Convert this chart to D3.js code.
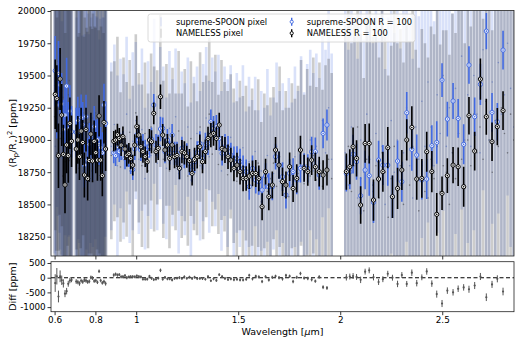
<!DOCTYPE html>
<html lang="en">
<head>
<meta charset="UTF-8">
<title>Transmission spectrum: supreme-SPOON vs NAMELESS</title>
<style>
  body { margin: 0; background: #fff; }
  svg { font-family: "DejaVu Sans", sans-serif; }
  .axis text { fill: #000; }
  .axis line { stroke: #000; stroke-width: 0.8; }
  .frame { fill: none; stroke: #222; stroke-width: 0.8; }
</style>
</head>
<body>
<svg width="520" height="341"></svg>
<script src="https://d3js.org/d3.v7.min.js"></script>
<script>
// ---- pixel level spectra (order 2 below 0.86 um, order 1 above) ----
const pixWave = [
  0.600, 0.604, 0.608, 0.612, 0.616, 0.620, 0.624, 0.628, 0.632, 0.636, 0.640, 0.644, 0.648, 0.652, 0.656, 0.660, 0.664, 0.668, 0.672, 0.676, 0.680, 0.685,
  0.704, 0.708, 0.712, 0.716, 0.720, 0.724, 0.728, 0.732, 0.736, 0.740, 0.744, 0.748, 0.752, 0.756, 0.760, 0.764, 0.768, 0.772, 0.776, 0.780,
  0.784, 0.788, 0.792, 0.796, 0.800, 0.804, 0.808, 0.812, 0.816, 0.820, 0.824, 0.828, 0.832, 0.836, 0.840, 0.844, 0.848, 0.852,
  0.878, 0.893, 0.908, 0.923, 0.938, 0.953, 0.968, 0.983, 0.998, 1.013, 1.028, 1.043, 1.058, 1.073, 1.088, 1.103, 1.118, 1.133, 1.148, 1.163,
  1.178, 1.193, 1.208, 1.223, 1.238, 1.253, 1.268, 1.283, 1.298, 1.313, 1.328, 1.343, 1.358, 1.373, 1.388, 1.403, 1.418, 1.433, 1.448, 1.463,
  1.478, 1.493, 1.508, 1.523, 1.538, 1.553, 1.568, 1.583, 1.598, 1.613, 1.628, 1.643, 1.658, 1.673, 1.688, 1.703, 1.718, 1.733, 1.748, 1.763,
  1.778, 1.793, 1.808, 1.823, 1.838, 1.853, 1.868, 1.883, 1.898, 1.913, 1.928, 1.943, 1.958,
  2.025, 2.040, 2.055, 2.070, 2.085, 2.100, 2.115, 2.130, 2.145, 2.160, 2.175, 2.190, 2.205, 2.220, 2.235, 2.250, 2.265, 2.280, 2.295, 2.310,
  2.325, 2.340, 2.355, 2.370, 2.385, 2.400, 2.415, 2.430, 2.445, 2.460, 2.475, 2.490, 2.505, 2.520, 2.535, 2.550, 2.565, 2.580, 2.595, 2.610,
  2.625, 2.640, 2.655, 2.670, 2.685, 2.700, 2.715, 2.730, 2.745, 2.760, 2.775, 2.790, 2.805, 2.820, 2.835, 2.850
];
const pixSpoon = [
  19420, 18950, 19150, 19530, 19610, 19080, 19280, 19400, 19050, 18870, 19330, 19150, 18890, 19260, 19240, 18980, 19120, 19350, 19460, 19010, 18980, 19200,
  19100, 18950, 18870, 19180, 19250, 18900, 19010, 19130, 18760, 19050, 19180, 18820, 18930, 19200, 19070, 18880, 18820, 19100, 19150, 18900,
  18990, 19170, 18880, 19020, 19210, 18860, 18950, 19120, 19060, 18830, 18840, 19090, 19130, 18900, 18970, 19160, 19250, 19080,
  18950, 19120, 18800, 19050, 18870, 19200, 18760, 18990, 19150, 18850, 19080, 18700, 19010, 18880, 19300, 18820, 19130, 18960, 18780, 19090,
  18900, 19180, 18740, 18970, 18850, 19100, 18690, 18920, 19050, 18800, 18980, 19170, 18870, 19080, 18930, 19120, 18760, 18990, 18820, 19020,
  18690, 18900, 18750, 18940, 18620, 18830, 18700, 18910, 18580, 18760, 18650, 18880, 18560, 18740, 18950, 18680, 18820, 18590, 18790, 18650,
  18870, 18700, 18930, 18680, 18850, 19000, 18760, 18950, 18700, 19150, 18900, 19250, 18850,
  18900, 18650, 19100, 18800, 18550, 19000, 18750, 19200, 18850, 18600, 19050, 18700, 18950, 18500, 18850, 19150, 18750, 19000, 18650, 18900,
  19250, 18800, 18550, 19100, 18850, 19300, 18950, 19450, 19100, 18800, 19350, 19050, 19500, 18950, 19250, 18900, 19400, 19150, 19650, 19000,
  19350, 18950, 19500, 19200, 18900, 19700, 19300, 19000, 19450, 19150, 19600, 19200, 19350, 19750, 19400, 19100
];
const pixNameless = [
  19180, 19450, 19390, 18900, 18860, 19240, 19420, 19010, 19260, 19380, 18720, 18990, 19010, 18830, 18950, 19160, 19230, 18900, 18840, 19100, 19090, 18910,
  18920, 19150, 19110, 18850, 18780, 19060, 19160, 18870, 18990, 19210, 18700, 18950, 19040, 18820, 18860, 19130, 19120, 18880, 18930, 19170,
  18760, 18980, 19080, 18830, 18890, 19100, 19150, 18850, 18800, 19070, 19020, 18880, 18910, 19140, 18850, 18990, 19070, 18960,
  18880, 18990, 19100, 18790, 19000, 18850, 19060, 18730, 19210, 18940, 18800, 19050, 18760, 19100, 18930, 19020, 19380, 18850, 19040, 18760,
  18990, 18830, 19070, 18800, 18960, 18720, 19010, 18870, 18780, 19100, 18840, 18950, 19200, 18890, 19060, 18810, 19000, 18870, 18730, 18950,
  18800, 18680, 18880, 18700, 18820, 18600, 18790, 18650, 18820, 18520, 18760, 18600, 18700, 18820, 18640, 18870, 18610, 18720, 18560, 18800,
  18620, 18740, 18900, 18660, 18810, 18720, 18880, 18690, 18820, 18640, 18780, 18850, 18700,
  18750, 18950, 18600, 18900, 19100, 18700, 18450, 18850, 19000, 18650, 18800, 18550, 18900, 18750, 18400, 18700, 18950, 18600, 18800, 18500,
  18850, 18650, 18950, 18700, 18450, 18800, 18600, 18550, 18850, 18700, 18950, 18600, 18800, 18750, 18500, 18900, 18700, 19050, 18850, 18650,
  19000, 18800, 19200, 18900, 19100, 18850, 19300, 19000, 18750, 19150, 18950, 19250, 19050, 18900, 19200, 19000
];
const pixErr = [
  1300, 1150, 1250, 1050, 1200, 1100, 1000, 1250, 1150, 1050, 1300, 1100, 1200, 1000, 1150, 1250, 1050, 1100, 1200, 1000, 1150, 1100,
  1100, 1000, 1150, 950, 1050, 1100, 1000, 1150, 1050, 950, 1100, 1000, 1150, 1050, 980, 1100, 1000, 1150, 950, 1050,
  1100, 1000, 1150, 1050, 980, 1100, 1000, 1150, 1050, 950, 1100, 1000, 1150, 1050, 980, 1100, 1000, 1050,
  650, 620, 700, 580, 640, 600, 560, 690, 610, 580, 630, 550, 600, 570, 640, 520, 590, 610, 550, 600,
  570, 530, 620, 560, 590, 540, 600, 570, 520, 580, 610, 550, 590, 560, 600, 540, 620, 580, 650, 560,
  600, 620, 580, 640, 600, 660, 610, 580, 650, 620, 600, 670, 630, 590, 650, 700, 620, 660, 690, 640,
  700, 680, 720, 690, 740, 700, 760, 720, 780, 750, 800, 780, 820,
  1100, 1050, 1150, 1000, 1080, 1120, 1030, 1100, 1060, 1150, 1000, 1090, 1120, 1050, 1100, 1030, 1080, 1150, 1060, 1100,
  1040, 1120, 1080, 1000, 1110, 1060, 1150, 1090, 1030, 1120, 1070, 1140, 1050, 1100, 1160, 1080, 1130, 1060, 1190, 1100,
  1150, 1080, 1200, 1130, 1170, 1090, 1220, 1150, 1100, 1240, 1170, 1200, 1260, 1180, 1230, 1300
];

// ---- binned spectra, R = 100 ----
const binWave = [
  0.603, 0.611, 0.619, 0.627, 0.635, 0.643, 0.651, 0.659, 0.667, 0.675, 0.683,
  0.706, 0.714, 0.722, 0.730, 0.738, 0.746, 0.754, 0.762, 0.770, 0.778, 0.786, 0.794, 0.802, 0.810, 0.818, 0.826, 0.834, 0.842, 0.850,
  0.890, 0.899, 0.908, 0.917, 0.926, 0.935, 0.945, 0.954, 0.964, 0.973, 0.983, 0.993, 1.003, 1.013, 1.023, 1.033, 1.044, 1.054, 1.065, 1.075,
  1.086, 1.097, 1.108, 1.119, 1.130, 1.141, 1.153, 1.164, 1.176, 1.188, 1.200, 1.212, 1.224, 1.236, 1.248, 1.261, 1.274, 1.286, 1.299, 1.312,
  1.325, 1.339, 1.352, 1.366, 1.379, 1.393, 1.407, 1.421, 1.435, 1.450, 1.464, 1.479, 1.494, 1.509, 1.524, 1.539, 1.554, 1.570, 1.586, 1.601,
  1.617, 1.634, 1.650, 1.667, 1.683, 1.700, 1.717, 1.734, 1.752, 1.769, 1.787, 1.805, 1.823, 1.841, 1.860, 1.878, 1.897, 1.916, 1.935,
  2.030, 2.047, 2.063, 2.080, 2.100, 2.122, 2.142, 2.163, 2.188, 2.209, 2.233, 2.256, 2.281, 2.302, 2.326, 2.351, 2.375, 2.400, 2.424, 2.449,
  2.473, 2.499, 2.525, 2.553, 2.578, 2.605, 2.631, 2.659, 2.687, 2.716, 2.744, 2.770, 2.798
];
const binSpoon = [
  19537, 19271, 19517, 19426, 19279, 19082, 19193, 19418, 19085, 19224, 19064,
  19060, 19150, 19069, 19173, 19120, 18806, 19181, 18844, 18966, 19038, 18850, 19103, 18999, 19000, 18966, 18940, 18900, 19271, 19129,
  18900, 18878, 18950, 18909, 18930, 18990, 18857, 18880, 18870, 18820, 18770, 18930, 19038, 18999, 18922, 18961, 18922, 18880, 18947, 19007,
  19271, 18961, 18950, 19085, 19090, 18909, 18999, 18900, 19038, 18896, 18896, 18780, 18935, 18870, 18890, 18818, 18767, 18831, 18900, 18973,
  18860, 18961, 18973, 19141, 19090, 19103, 19012, 18896, 18947, 18935, 18883, 18850, 18857, 18831, 18780, 18754, 18637, 18780, 18689, 18676,
  18612, 18720, 18637, 18637, 18870, 18805, 18715, 18573, 18741, 18754, 18689, 18780, 18792, 18780, 18909, 18909, 18728, 19051, 19116,
  18740, 18752, 18890, 18831, 18568, 18767, 18723, 18516, 18844, 18805, 18805, 18560, 18836, 18676, 19211, 18927, 18883, 18689, 18697, 18955,
  18981, 19464, 19162, 19302, 19167, 18966, 19581, 19180, 19431, 19844, 19214, 19141, 19697
];
const binNameless = [
  19354, 19320, 18878, 19473, 19193, 18888, 18651, 18961, 18878, 19129, 18990,
  18930, 19000, 18870, 19069, 18980, 18728, 19080, 18700, 18840, 19046, 18837, 18990, 18901, 18844, 19186, 18844, 18723, 19137, 18930,
  18990, 18999, 19040, 19012, 18960, 19025, 18930, 18880, 18896, 18857, 18805, 18960, 19103, 19038, 18947, 18909, 18870, 18831, 18999, 18986,
  19206, 18909, 18935, 19335, 19038, 18922, 18961, 18857, 18961, 18870, 18880, 18780, 18909, 18900, 18870, 18840, 18741, 18850, 18870, 18947,
  18831, 18909, 19012, 19038, 19051, 19012, 19116, 18935, 18922, 18870, 18844, 18780, 18805, 18754, 18702, 18702, 18720, 18741, 18740, 18702,
  18482, 18754, 18560, 18650, 18922, 18805, 18676, 18650, 18792, 18624, 18702, 18922, 18780, 18754, 18844, 18792, 18754, 18728, 18767,
  18754, 18792, 18947, 18857, 18495, 18973, 18973, 18534, 18697, 18754, 18940, 18560, 18624, 18767, 19000, 19097, 18697, 18702, 18909, 18754,
  18423, 18586, 18723, 18805, 18792, 18637, 19188, 18914, 19472, 19180, 18986, 19103, 19227
];
const binErr = [
  270, 260, 250, 240, 240, 230, 220, 220, 210, 200, 200,
  190, 185, 180, 180, 175, 175, 170, 170, 165, 165, 165, 160, 160, 160, 160, 160, 160, 165, 170,
  80, 80, 85, 80, 85, 80, 85, 85, 80, 85, 80, 85, 85, 80, 85, 85, 80, 85, 85, 90,
  85, 85, 90, 95, 85, 90, 85, 90, 85, 90, 90, 85, 90, 90, 85, 90, 95, 90, 90, 95,
  90, 95, 90, 95, 95, 90, 95, 95, 100, 95, 95, 100, 95, 100, 100, 95, 100, 100, 105, 100,
  105, 100, 105, 105, 100, 105, 110, 105, 110, 105, 110, 110, 105, 110, 115, 110, 115, 115, 120,
  140, 135, 150, 140, 145, 150, 155, 160, 150, 155, 160, 165, 160, 155, 160, 165, 160, 150, 155, 160,
  165, 130, 135, 140, 150, 155, 145, 150, 160, 140, 150, 145, 150
];

// ---- difference NAMELESS - supreme-SPOON ----
const diffVal = [
  -183, 49, -639, 47, -86, -194, -542, -457, -207, -95, -74,
  -130, -150, -199, -104, -140, -78, -101, -144, -126, 8, -13, -113, -98, -156, 220, -96, -177, -134, -199,
  90, 121, 90, 103, 30, 35, 73, 0, 26, 37, 35, 30, 65, 39, 25, -52, -52, -49, 52, -21,
  -65, -52, -15, 250, -52, 13, -38, -43, -77, -26, -16, 0, -26, 30, -20, 22, -26, 19, -30, -26,
  -29, -52, 39, -103, -39, -91, 104, 39, -25, -65, -39, -70, -52, -77, -78, -52, 83, -39, 51, 26,
  -130, 34, -77, 13, 52, 0, -39, 77, 51, -130, 13, 142, -12, -26, -65, -117, 26, -323, -349,
  14, 40, 57, 26, -73, 206, 250, 18, -147, -51, 135, 0, -212, 91, -211, 170, -186, 13, 212, -201,
  -558, -878, -439, -497, -375, -329, -393, -266, 41, -664, -228, -38, -470
];
const diffErr = [
  300, 280, 200, 200, 160, 140, 120, 110, 100, 90, 80,
  80, 75, 75, 70, 70, 70, 70, 65, 65, 65, 65, 65, 60, 60, 60, 60, 60, 65, 70,
  60, 55, 55, 50, 55, 50, 50, 55, 50, 50, 50, 50, 45, 50, 50, 45, 50, 50, 45, 50,
  50, 45, 50, 60, 50, 45, 50, 45, 50, 45, 45, 50, 45, 50, 45, 45, 50, 45, 50, 45,
  50, 45, 50, 45, 50, 50, 45, 50, 50, 45, 50, 50, 55, 50, 50, 55, 50, 55, 50, 55,
  55, 50, 55, 55, 50, 55, 60, 55, 55, 60, 55, 60, 55, 60, 60, 55, 60, 65, 65,
  110, 100, 100, 100, 110, 100, 100, 110, 100, 100, 100, 100, 110, 100, 100, 110, 110, 100, 110, 110,
  120, 120, 110, 110, 110, 110, 120, 120, 120, 130, 120, 120, 130
];

const xTicks = [0.6, 0.8, 1, 1.5, 2, 2.5];
const xTickLabels = ["0.6", "0.8", "1", "1.5", "2", "2.5"];
const yTicks = [18250, 18500, 18750, 19000, 19250, 19500, 19750, 20000];
const diffTicks = [500, 0, -500, -1000];

const spoonColor = "royalblue", namelessColor = "#000", pixGrey = "#2a2a2a";

var svg = d3.select("svg"),
    margin = {left: 51, top: 10.5},
    width = 463,
    mainH = 245.5,
    diffTop = 261.7,
    diffH = 50;

var x = d3.scaleLinear().domain([0.5824, 2.8517]).range([0, width]);
var y = d3.scaleLinear().domain([18100, 20004]).range([mainH, 0]);
var yd = d3.scaleLinear().domain([-1156, 544]).range([diffH, 0]);

var defs = svg.append("defs");
defs.append("clipPath").attr("id", "clipMain").append("rect").attr("width", width).attr("height", mainH);
defs.append("clipPath").attr("id", "clipDiff").append("rect").attr("width", width).attr("height", diffH);

var main = svg.append("g").attr("transform", "translate(" + margin.left + "," + margin.top + ")");
var lower = svg.append("g").attr("transform", "translate(" + margin.left + "," + diffTop + ")");

var pix = pixWave.map(function(w, i) {
    return {w: w, s: pixSpoon[i], n: pixNameless[i], e: pixErr[i]};
});
var bins = binWave.map(function(w, i) {
    return {w: w, s: binSpoon[i], n: binNameless[i], e: binErr[i], d: diffVal[i], de: diffErr[i]};
});

var plot = main.append("g").attr("clip-path", "url(#clipMain)");

// pixel error bars, very transparent
function pixelLayer(key, color, op) {
    var g = plot.append("g");
    g.append("g").attr("stroke", color).attr("stroke-opacity", op).attr("stroke-width", 2.6)
      .selectAll("line").data(pix).join("line")
        .attr("x1", function(d) { return x(d.w); })
        .attr("x2", function(d) { return x(d.w); })
        .attr("y1", function(d) { return y(d[key] - d.e); })
        .attr("y2", function(d) { return y(d[key] + d.e); });
    g.append("g").attr("fill", color).attr("fill-opacity", op + 0.25)
      .selectAll("circle").data(pix).join("circle")
        .attr("cx", function(d) { return x(d.w); })
        .attr("cy", function(d) { return y(d[key]); })
        .attr("r", 0.8);
}
pixelLayer("s", spoonColor, 0.2);
pixelLayer("n", pixGrey, 0.24);

// binned points with error bars
function binLayer(key, color) {
    var g = plot.append("g");
    g.append("g").attr("stroke", color).attr("stroke-width", 1.6)
      .selectAll("line").data(bins).join("line")
        .attr("x1", function(d) { return x(d.w); })
        .attr("x2", function(d) { return x(d.w); })
        .attr("y1", function(d) { return y(d[key] - d.e); })
        .attr("y2", function(d) { return y(d[key] + d.e); });
    g.append("g").attr("fill", "#fff").attr("stroke", color).attr("stroke-width", 1)
      .selectAll("circle").data(bins).join("circle")
        .attr("cx", function(d) { return x(d.w); })
        .attr("cy", function(d) { return y(d[key]); })
        .attr("r", 2.1);
    g.append("g").attr("fill", color)
      .selectAll("circle").data(bins).join("circle")
        .attr("cx", function(d) { return x(d.w); })
        .attr("cy", function(d) { return y(d[key]); })
        .attr("r", 0.8);
}
binLayer("s", spoonColor);
binLayer("n", namelessColor);

// residual panel
var dplot = lower.append("g").attr("clip-path", "url(#clipDiff)");
dplot.append("line")
    .attr("x1", 0).attr("x2", width)
    .attr("y1", yd(0)).attr("y2", yd(0))
    .attr("stroke", "#000").attr("stroke-width", 1.1).attr("stroke-dasharray", "4,2.5");
dplot.append("g").attr("stroke", "#555").attr("stroke-width", 1)
  .selectAll("line").data(bins).join("line")
    .attr("x1", function(d) { return x(d.w); })
    .attr("x2", function(d) { return x(d.w); })
    .attr("y1", function(d) { return yd(d.d - d.de); })
    .attr("y2", function(d) { return yd(d.d + d.de); });
dplot.append("g").attr("fill", "#555")
  .selectAll("circle").data(bins).join("circle")
    .attr("cx", function(d) { return x(d.w); })
    .attr("cy", function(d) { return yd(d.d); })
    .attr("r", 1.1);

// axes
function styleAxis(g) {
    g.select(".domain").remove();
    g.attr("font-family", null).attr("font-size", 8.8);
}
main.append("g").attr("class", "axis")
    .call(d3.axisLeft(y).tickValues(yTicks).tickSize(3.5).tickPadding(1.8).tickFormat(d3.format("d")))
    .call(styleAxis);
main.append("g").attr("class", "axis")
    .attr("transform", "translate(0," + mainH + ")")
    .call(d3.axisBottom(x).tickValues(xTicks).tickSize(3.5).tickFormat(""))
    .call(styleAxis);
lower.append("g").attr("class", "axis")
    .call(d3.axisLeft(yd).tickValues(diffTicks).tickSize(3.5).tickPadding(1.8).tickFormat(function(d) { return String(d); }))
    .call(styleAxis);
lower.append("g").attr("class", "axis")
    .attr("transform", "translate(0," + diffH + ")")
    .call(d3.axisBottom(x).tickValues(xTicks).tickSize(3.5).tickPadding(1.5)
        .tickFormat(function(d, i) { return xTickLabels[i]; }))
    .call(styleAxis);

main.append("rect").attr("class", "frame").attr("width", width).attr("height", mainH);
lower.append("rect").attr("class", "frame").attr("width", width).attr("height", diffH);

// axis labels
var yl = svg.append("text")
    .attr("transform", "translate(15.5," + (margin.top + mainH / 2) + ") rotate(-90)")
    .attr("text-anchor", "middle").attr("font-size", 9.5);
yl.append("tspan").text("(R");
yl.append("tspan").attr("dy", 2).attr("font-size", 6.8).text("p");
yl.append("tspan").attr("dy", -2).text("/R");
yl.append("tspan").attr("dy", 2).attr("font-size", 6.8).text("\u22c6");
yl.append("tspan").attr("dy", -2).text(")");
yl.append("tspan").attr("dy", -3.5).attr("font-size", 6.8).text("2");
yl.append("tspan").attr("dy", 3.5).text(" [ppm]");

svg.append("text")
    .attr("transform", "translate(15.5," + (diffTop + diffH / 2) + ") rotate(-90)")
    .attr("text-anchor", "middle").attr("font-size", 9.5)
    .text("Diff [ppm]");

var xl = svg.append("text")
    .attr("x", margin.left + width / 2).attr("y", 334.5)
    .attr("text-anchor", "middle").attr("font-size", 9.5);
xl.append("tspan").text("Wavelength [");
xl.append("tspan").attr("font-style", "italic").text("\u03bc");
xl.append("tspan").text("m]");

// legend
var legend = svg.append("g").attr("font-size", 8.3);
legend.append("rect")
    .attr("x", 148).attr("y", 14).attr("width", 267).attr("height", 28).attr("rx", 2.5)
    .attr("fill", "#fff").attr("fill-opacity", 0.8)
    .attr("stroke", "#d0d0d0").attr("stroke-width", 0.8);

var legendItems = [
    {label: "supreme-SPOON pixel", color: spoonColor, kind: "pixel", col: 0, row: 0},
    {label: "NAMELESS pixel", color: pixGrey, kind: "pixel", col: 0, row: 1},
    {label: "supreme-SPOON R = 100", color: spoonColor, kind: "bin", col: 1, row: 0},
    {label: "NAMELESS R = 100", color: namelessColor, kind: "bin", col: 1, row: 1}
];
var colX = [161, 291.7], textX = [176, 306.7], rowY = [21.8, 33.2];

legendItems.forEach(function(it) {
    var cx = colX[it.col], cy = rowY[it.row];
    if (it.kind === "pixel") {
        legend.append("line").attr("x1", cx).attr("x2", cx).attr("y1", cy - 4.5).attr("y2", cy + 4.5)
            .attr("stroke", it.color).attr("stroke-opacity", 0.18).attr("stroke-width", 1.2);
    } else {
        legend.append("line").attr("x1", cx).attr("x2", cx).attr("y1", cy - 4).attr("y2", cy + 4)
            .attr("stroke", it.color).attr("stroke-width", 1.4);
        legend.append("circle").attr("cx", cx).attr("cy", cy).attr("r", 1.6)
            .attr("fill", "#fff").attr("stroke", it.color).attr("stroke-width", 0.9);
    }
    legend.append("text").attr("x", textX[it.col]).attr("y", cy).attr("dy", "0.35em").text(it.label);
});
</script>
</body>
</html>
